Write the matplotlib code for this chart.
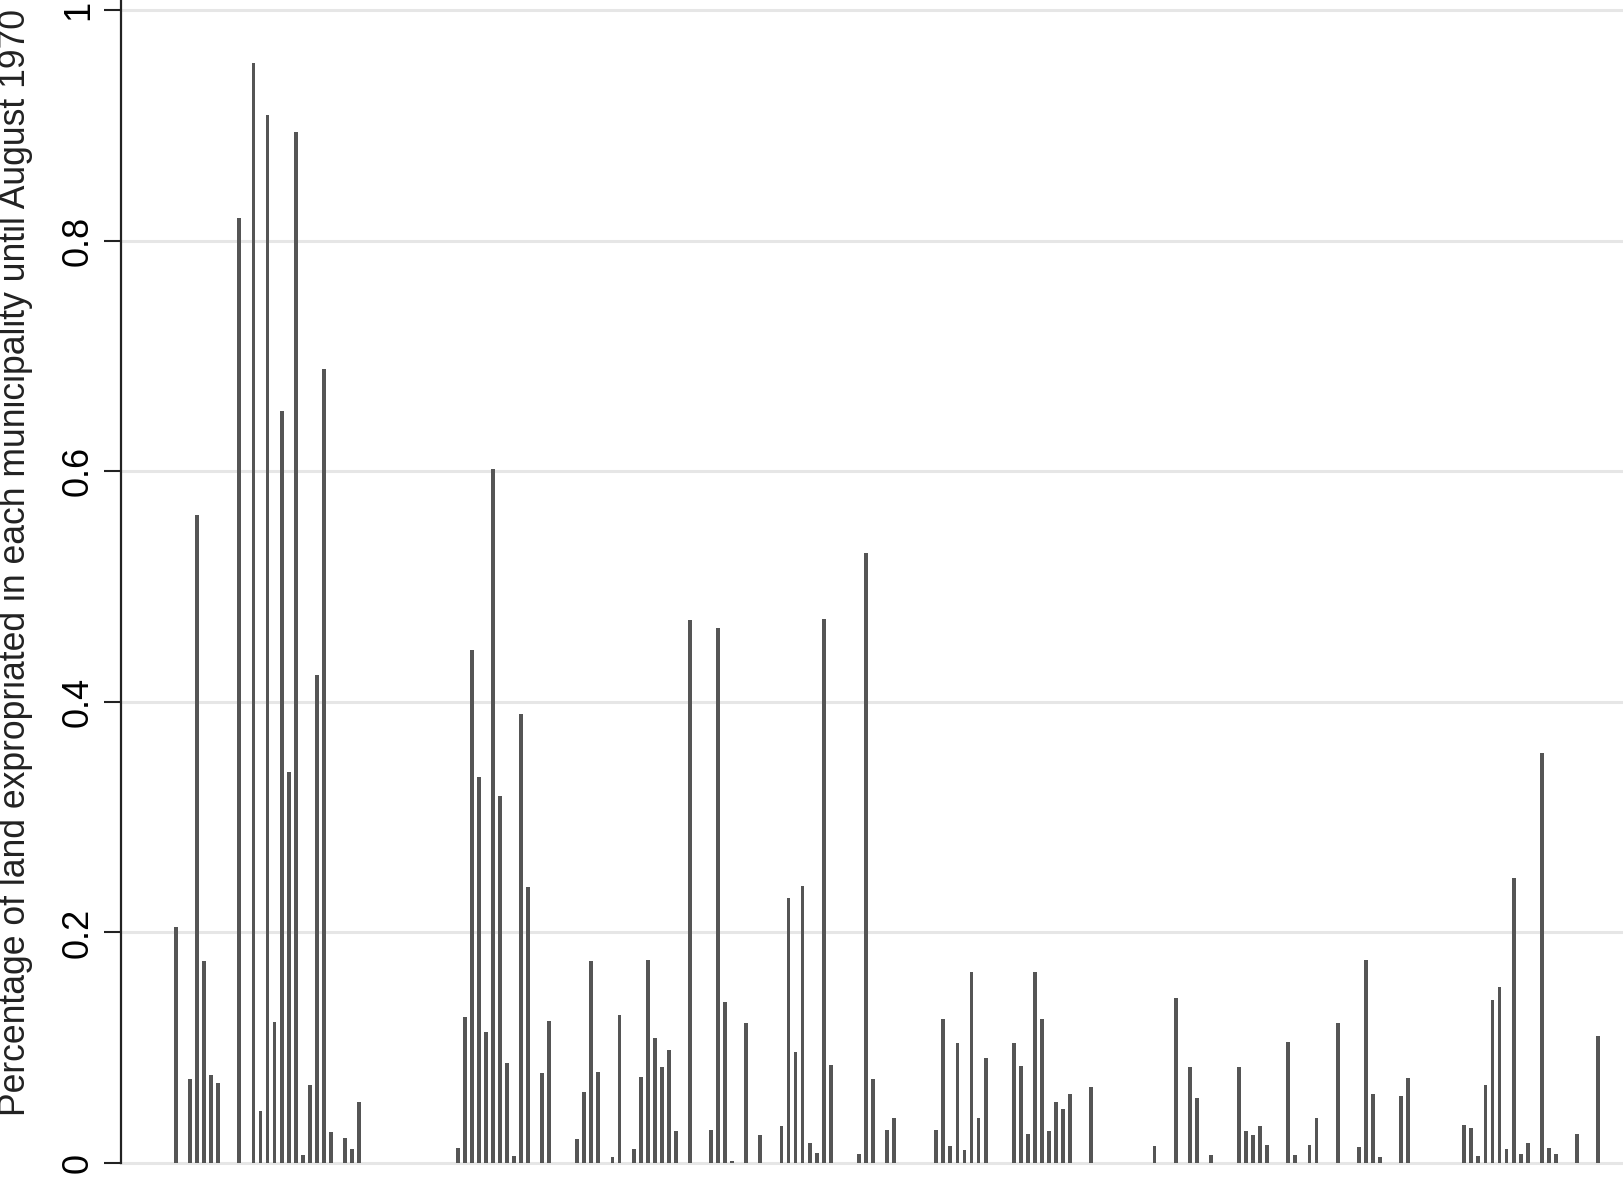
import matplotlib
matplotlib.use("Agg")
import matplotlib.pyplot as plt
import numpy as np

# Share of land expropriated per municipality (ordered), 0 = none
municipality_values = [
    0.205, 0.0, 0.073, 0.562, 0.175, 0.076, 0.069, 0.0, 0.0, 0.820,
    0.0, 0.954, 0.045, 0.909, 0.122, 0.652, 0.339, 0.894, 0.007, 0.068,
    0.423, 0.689, 0.027, 0.0, 0.022, 0.012, 0.053, 0.0, 0.0, 0.0,
    0.0, 0.0, 0.0, 0.0, 0.0, 0.0, 0.0, 0.0, 0.0, 0.0,
    0.013, 0.127, 0.445, 0.335, 0.114, 0.602, 0.318, 0.087, 0.006, 0.389,
    0.239, 0.0, 0.078, 0.123, 0.0, 0.0, 0.0, 0.021, 0.062, 0.175,
    0.079, 0.0, 0.005, 0.128, 0.0, 0.012, 0.075, 0.176, 0.108, 0.083,
    0.098, 0.028, 0.0, 0.471, 0.0, 0.0, 0.029, 0.464, 0.140, 0.002,
    0.0, 0.121, 0.0, 0.024, 0.0, 0.0, 0.032, 0.230, 0.096, 0.240,
    0.017, 0.009, 0.472, 0.085, 0.0, 0.0, 0.0, 0.008, 0.529, 0.073,
    0.0, 0.029, 0.039, 0.0, 0.0, 0.0, 0.0, 0.0, 0.029, 0.125,
    0.015, 0.104, 0.011, 0.166, 0.039, 0.091, 0.0, 0.0, 0.0, 0.104,
    0.084, 0.025, 0.166, 0.125, 0.028, 0.053, 0.047, 0.060, 0.0, 0.0,
    0.066, 0.0, 0.0, 0.0, 0.0, 0.0, 0.0, 0.0, 0.0, 0.015,
    0.0, 0.0, 0.143, 0.0, 0.083, 0.056, 0.0, 0.007, 0.0, 0.0,
    0.0, 0.083, 0.028, 0.024, 0.032, 0.016, 0.0, 0.0, 0.105, 0.007,
    0.0, 0.016, 0.039, 0.0, 0.0, 0.121, 0.0, 0.0, 0.014, 0.176,
    0.060, 0.005, 0.0, 0.0, 0.058, 0.074, 0.0, 0.0, 0.0, 0.0,
    0.0, 0.0, 0.0, 0.033, 0.030, 0.006, 0.068, 0.141, 0.153, 0.012,
    0.247, 0.008, 0.017, 0.0, 0.356, 0.013, 0.008, 0.0, 0.0, 0.025,
    0.0, 0.0, 0.110,
]
y_ticks = [0, 0.2, 0.4, 0.6, 0.8, 1]
y_tick_labels = ["0", "0.2", "0.4", "0.6", "0.8", "1"]
y_label = "Percentage of land expropriated in each municipality until August 1970"

plt.rcParams["font.family"] = ["Liberation Sans", "DejaVu Sans"]

W, H = 1624, 1177
fig = plt.figure(figsize=(W / 100, H / 100), dpi=100)
ax_left = 121 / W
ax_bottom = (H - 1163) / H
ax = fig.add_axes([ax_left, ax_bottom, 1 - ax_left, 1 - ax_bottom])

x = np.arange(len(municipality_values))
ax.bar(x, municipality_values, width=0.55, color="#555555", zorder=3)

slot_px = 7.04
ax.set_xlim(-55 / slot_px, -55 / slot_px + (W - 121) / slot_px)
ax.set_ylim(0, 1 + 10 / 1153)

ax.set_yticks(y_ticks)
ax.set_yticklabels(y_tick_labels, rotation=90, va="center", fontsize=26)
ax.tick_params(axis="y", length=12, width=1.5, pad=6, color="#222222")
ax.set_xticks([])

ax.grid(axis="y", color="#e6e6e6", linewidth=2.2, zorder=0)
for gl in ax.get_ygridlines():
    gl.set_clip_on(False)
ax.set_axisbelow(True)

for s in ["top", "right", "bottom"]:
    ax.spines[s].set_visible(False)
ax.spines["left"].set_linewidth(1.6)
ax.spines["left"].set_color("#222222")

fig.text(16 / W, 1 - 562 / H, y_label, rotation=90, ha="center", va="center",
         fontsize=25.6, color="#222222")

fig.savefig("out.png", dpi=100, facecolor="white")
